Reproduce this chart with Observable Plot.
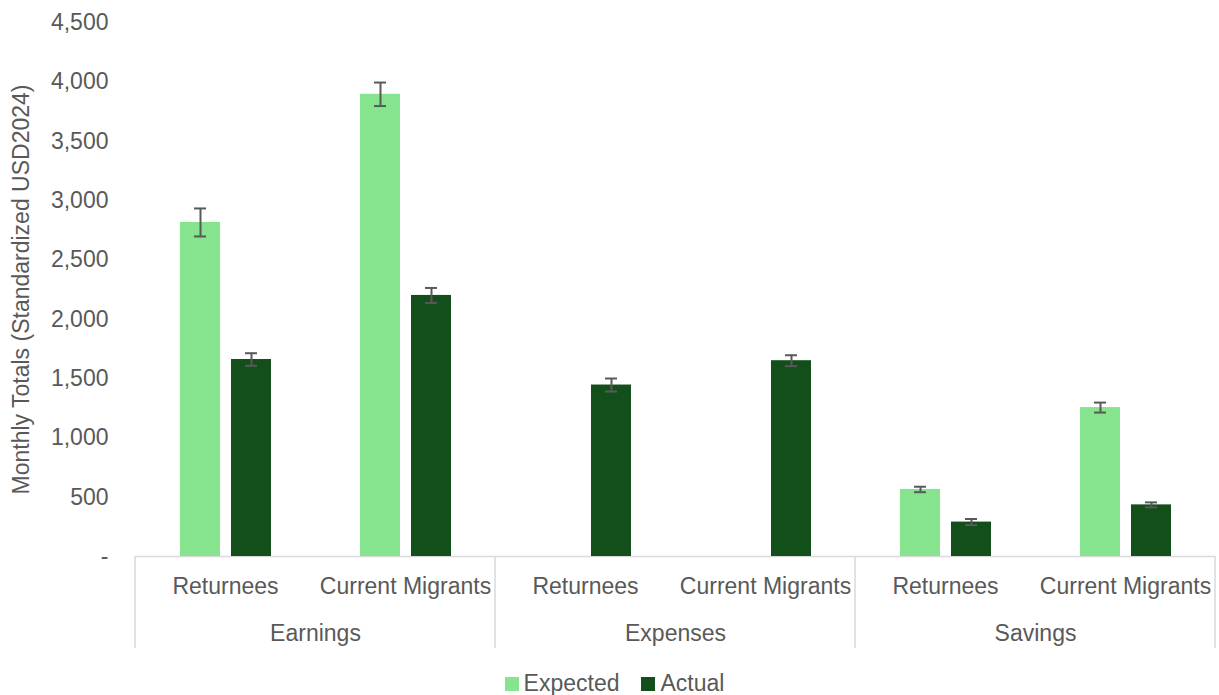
<!DOCTYPE html>
<html>
<head>
<meta charset="utf-8">
<script src="https://cdn.jsdelivr.net/npm/d3@7"></script>
<script src="https://cdn.jsdelivr.net/npm/@observablehq/plot@0.6"></script>
<style>
  html, body { margin: 0; padding: 0; background: #fff; }
  body { width: 1219px; height: 695px; overflow: hidden; font-family: "Liberation Sans", Arial, sans-serif; }
  #legend { display: flex; justify-content: center; gap: 22px; height: 35px; align-items: flex-end; padding-left: 10px;
            font-size: 23px; color: #595959; line-height: 1; }
  #legend span.item { display: inline-flex; align-items: center; gap: 5px; }
  #legend span.sw { display: inline-block; width: 14px; height: 14px; }
</style>
</head>
<body>
<div id="chart"></div>
<div id="legend"></div>
<script>
// ---- data ----
const groups = ["Earnings", "Expenses", "Savings"];
const subgroups = ["Returnees", "Current Migrants"];
const series = ["Expected", "Actual"];
const seriesColors = ["#86e38e", "#134f1b"];
// order: Earnings-Returnees, Earnings-Current Migrants, Expenses-Returnees, Expenses-Current Migrants, Savings-Returnees, Savings-Current Migrants
const expectedValues = [2815, 3895, null, null, 565, 1255];
const expectedErrors = [118, 99, null, null, 23, 42];
const actualValues = [1660, 2200, 1445, 1650, 290, 435];
const actualErrors = [53, 63, 55, 46, 26, 21];
const yTicks = [0, 500, 1000, 1500, 2000, 2500, 3000, 3500, 4000, 4500];

const rows = [];
groups.forEach((g, gi) => subgroups.forEach((s, si) => {
  const i = gi * subgroups.length + si;
  rows.push({group: g, sub: s, series: "Expected", value: expectedValues[i], err: expectedErrors[i]});
  rows.push({group: g, sub: s, series: "Actual", value: actualValues[i], err: actualErrors[i]});
}));
const data = rows.filter(d => d.value != null);
const exp = data.filter(d => d.series === "Expected");
const act = data.filter(d => d.series === "Actual");

const font = "Liberation Sans, Arial, sans-serif";
const grey = "#595959";

const plot = Plot.plot({
  width: 1219,
  height: 660,
  marginLeft: 135,
  marginRight: 4,
  marginTop: 22,
  marginBottom: 104,
  style: {fontFamily: font, fontSize: "23px", color: grey, background: "#fff"},
  fx: {domain: groups, padding: 0, label: null, axis: null},
  x: {domain: subgroups, padding: 0, label: null},
  y: {domain: [0, 4500], label: null},
  color: {domain: series, range: seriesColors},
  marks: [
    Plot.ruleY([0], {stroke: "#d9d9d9", strokeWidth: 1.5}),
    // Expected bars (left in each pair)
    Plot.barY(exp, {fx: "group", x: "sub", y: "value", fill: "series", insetLeft: 45, insetRight: 95}),
    // Actual bars (right in each pair)
    Plot.barY(act, {fx: "group", x: "sub", y: "value", fill: "series", insetLeft: 96, insetRight: 44}),
    // error bars
    Plot.ruleX(exp, {fx: "group", x: "sub", y1: d => d.value - d.err, y2: d => d.value + d.err, dx: -25, stroke: grey, strokeWidth: 2}),
    Plot.ruleX(act, {fx: "group", x: "sub", y1: d => d.value - d.err, y2: d => d.value + d.err, dx: 26, stroke: grey, strokeWidth: 2}),
    Plot.tickY(exp, {fx: "group", x: "sub", y: d => d.value - d.err, insetLeft: 59, insetRight: 109, stroke: grey, strokeWidth: 2}),
    Plot.tickY(exp, {fx: "group", x: "sub", y: d => d.value + d.err, insetLeft: 59, insetRight: 109, stroke: grey, strokeWidth: 2}),
    Plot.tickY(act, {fx: "group", x: "sub", y: d => d.value - d.err, insetLeft: 110, insetRight: 58, stroke: grey, strokeWidth: 2}),
    Plot.tickY(act, {fx: "group", x: "sub", y: d => d.value + d.err, insetLeft: 110, insetRight: 58, stroke: grey, strokeWidth: 2}),
    // axes
    Plot.axisY({ticks: yTicks, tickSize: 0, tickPadding: 27, fontSize: 23, fill: grey,
      tickFormat: d => d === 0 ? "-" : d3.format(",")(d),
      label: "Monthly Totals (Standardized USD2024)", labelAnchor: "center", labelArrow: "none", labelOffset: 123}),
    Plot.axisX({tickSize: 0, tickPadding: 21, fontSize: 23, fill: grey, label: null}),
    Plot.axisFx({tickSize: 0, tickPadding: 68, fontSize: 23, fill: grey, label: null, anchor: "bottom"})
  ]
});

document.getElementById("chart").appendChild(plot);

// category separators at the facet (group) band edges, derived from the fx scale
const fx = plot.scale("fx");
const y = plot.scale("y");
const svg = d3.select(plot);
const y0 = y.apply(0);
const edges = groups.map(g => fx.apply(g));
edges.push(fx.apply(groups[groups.length - 1]) + fx.bandwidth);
svg.append("g").selectAll("line").data(edges).join("line")
  .attr("x1", d => d).attr("x2", d => d)
  .attr("y1", y0).attr("y2", y0 + 92)
  .attr("stroke", "#d9d9d9").attr("stroke-width", 1.5);

// legend
const legend = d3.select("#legend");
series.forEach((s, i) => {
  const item = legend.append("span").attr("class", "item");
  item.append("span").attr("class", "sw").style("background", seriesColors[i]);
  item.append("span").text(s);
});
</script>
</body>
</html>
